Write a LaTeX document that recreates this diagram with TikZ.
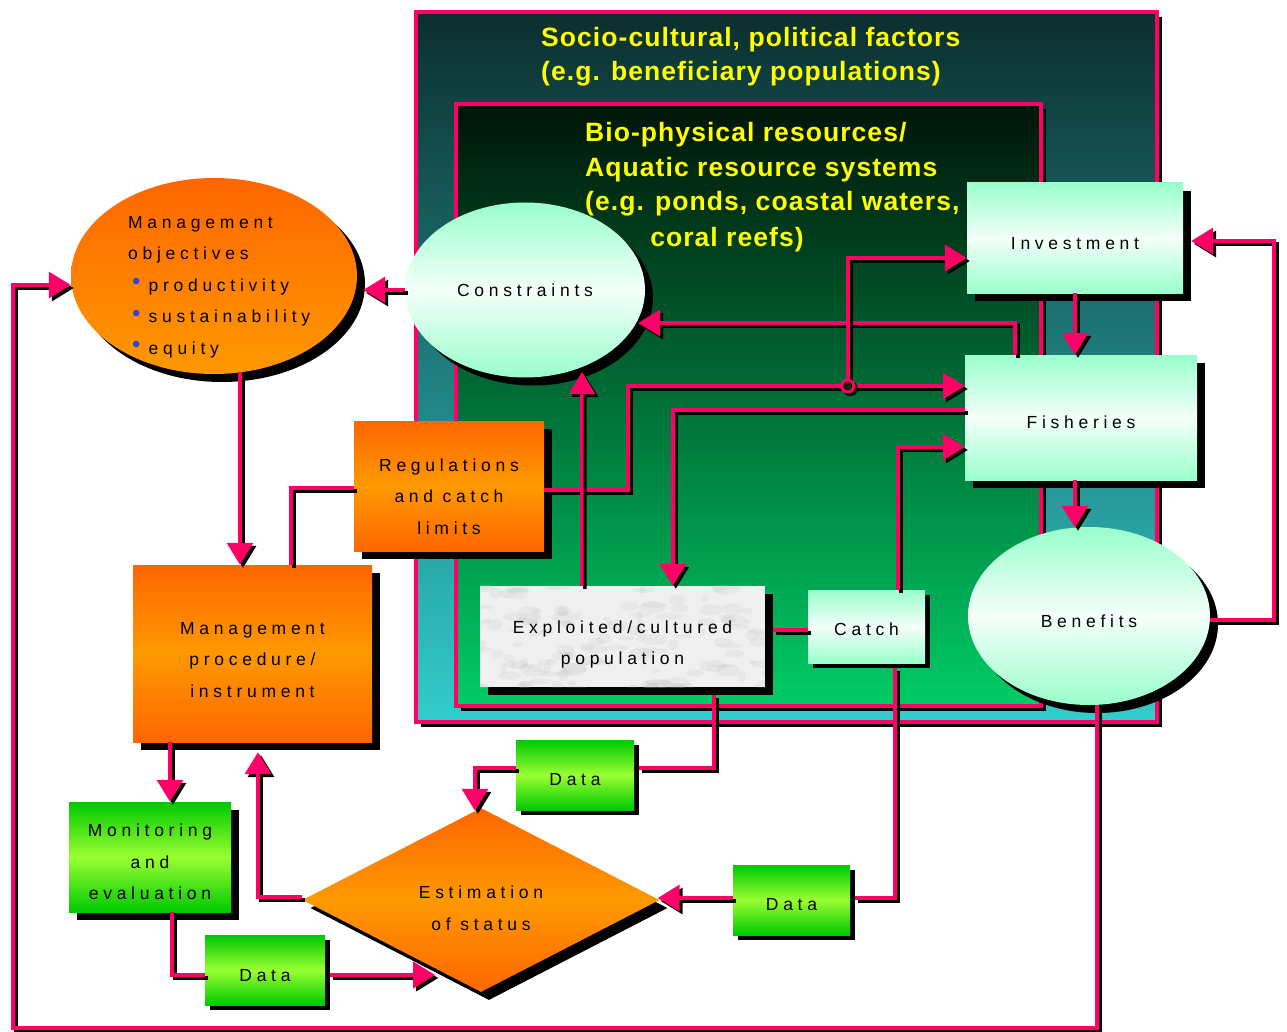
\documentclass[tikz,border=0pt]{standalone}
\usepackage{fontspec}
\setmainfont{Liberation Sans}
\newfontfamily\bodyfont[LetterSpace=27]{Liberation Sans}
\newfontfamily\titlefont[LetterSpace=4]{Liberation Sans}
\newfontfamily\bulfont{Liberation Sans}
\usetikzlibrary{shapes.geometric,shadows,arrows.meta,calc}
\definecolor{pinkc}{HTML}{FF0066}
\definecolor{orT}{HTML}{FF6600}
\definecolor{orM}{HTML}{FF9900}
\definecolor{mintc}{HTML}{99FFCC}
\definecolor{mintW}{HTML}{F4FFFA}
\definecolor{grT}{HTML}{00C800}
\definecolor{grM}{HTML}{99FF33}
\definecolor{outerT}{HTML}{0C2E2E}
\definecolor{outerB}{HTML}{33CCCC}
\definecolor{innerT}{HTML}{001408}
\definecolor{innerB}{HTML}{00CC66}
\definecolor{ttlyel}{HTML}{FFFF00}
\definecolor{bblue}{HTML}{3344DD}
\newcommand\conn[2][]{\draw[cshadow,#1] #2; \draw[cpink,#1] #2;}
\newcommand\dn[1]{\rule{0pt}{#1pt}}
\newcommand\bul{\hspace*{4pt}\raisebox{1.5pt}{\textcolor{bblue}{\bulfont\fontsize{24}{24}\selectfont\char"2022}}\hspace{8pt}}
\begin{document}
\begin{tikzpicture}[x=1pt,y=-1pt,
  bigsh/.style={drop shadow={shadow xshift=8pt,shadow yshift=-8pt,fill=black,opacity=1}},
  smallsh/.style={drop shadow={shadow xshift=5pt,shadow yshift=-5pt,fill=black,opacity=1}},
  box/.style={inner sep=0pt,align=center,text=black,font=\bodyfont\fontsize{17.5}{31.5}\selectfont},
  mint/.style={top color=mintc,bottom color=mintc,middle color=mintW},
  orng/.style={top color=orT,bottom color=orT,middle color=orM},
  grn/.style={top color=grT,bottom color=grT,middle color=grM},
  ttl/.style={inner sep=0pt,anchor=base west,text=ttlyel,font=\titlefont\bfseries\fontsize{26.5}{30}\selectfont},
  cshadow/.style={draw=black,line width=3.5pt,transform canvas={shift={(3pt,-3pt)}}},
  cpink/.style={draw=pinkc,line width=3.5pt},
  arr/.style={-{Triangle[length=22pt,width=26pt]}}]
\useasboundingbox (0,0) rectangle (1287,1032);
\fill[white] (0,0) rectangle (1287,1032);
% background regions
\fill[black] (421,17) rectangle (1162,727);
\shade[top color=outerT,bottom color=outerB] (416,12) rectangle (1157,722);
\draw[pinkc,line width=4pt] (416,12) rectangle (1157,722);
\fill[black] (461,109) rectangle (1046,711);
\shade[top color=innerT,bottom color=innerB] (456,104) rectangle (1041,706);
\draw[pinkc,line width=4pt] (456,104) rectangle (1041,706);
% titles
\node[ttl] (t1) at (541,47) {Socio-cultural, political factors};
\node[ttl] (t2) at (541,81) {(e.g. beneficiary populations)};
\node[ttl] (t3) at (585,142) {Bio-physical resources/};
\node[ttl] (t4) at (585,177) {Aquatic resource systems};
\node[ttl] (t5) at (585,211) {(e.g. ponds, coastal waters,};
\node[ttl,anchor=base] (t6) at (727,247) {coral reefs)};
% nodes
\node[ellipse,top color=orT,bottom color=orM,bigsh,minimum width=286pt,minimum height=196pt,inner sep=0pt] (obj) at (214,276) {};
\node[box,align=left,anchor=north west] (objtxt) at (128,216) {Management\\objectives\\\bul productivity\\\bul sustainability\\\bul equity};
\node[ellipse,box,mint,bigsh,minimum width=240pt,minimum height=175pt] (cons) at (525,290) {Constraints};
\node[rectangle,box,mint,bigsh,minimum width=216pt,minimum height=110pt] (inv) at (1075,238) {\dn{23}Investment};
\node[rectangle,box,mint,bigsh,minimum width=232pt,minimum height=125pt] (fish) at (1081,417.5) {\dn{23}Fisheries};
\node[ellipse,box,mint,bigsh,minimum width=242pt,minimum height=178pt] (ben) at (1089,616) {\dn{23}Benefits};
\node[rectangle,box,mint,smallsh,minimum width=117pt,minimum height=73pt] (catch) at (866.5,626.5) {\dn{19}Catch};
\node[rectangle,box,fill=gray!12,bigsh,minimum width=285pt,minimum height=101pt] (expl) at (622.5,636.5) {};
\begin{scope}
\clip (expl.south west) rectangle (expl.north east);
\pgfmathsetseed{11}
\foreach \i in {1,...,140} {
  \fill[gray!60,opacity=0.14]
    ($(expl.south west)+(rnd*295-5,-rnd*108+3)$) ellipse ({3+rnd*12} and {1.5+rnd*5});
}
\end{scope}
\node[box] (expltxt) at (expl.center) {\dn{29}Exploited/cultured\\population};
\node[rectangle,box,orng,bigsh,minimum width=190pt,minimum height=130pt] (reg) at (449,486) {\dn{34}Regulations\\and catch\\limits};
\node[rectangle,box,orng,bigsh,minimum width=239pt,minimum height=177pt] (proc) at (252.5,653.5) {\dn{25}Management\\procedure/\\instrument};
\node[rectangle,box,grn,bigsh,minimum width=162pt,minimum height=110pt] (mon) at (150,857) {\dn{23}Monitoring\\and\\evaluation};
\node[rectangle,box,grn,smallsh,minimum width=120pt,minimum height=70pt] (d1) at (265,970) {\dn{24}Data};
\node[rectangle,box,grn,smallsh,minimum width=118pt,minimum height=70pt] (d2) at (575,775) {\dn{22}Data};
\node[rectangle,box,grn,smallsh,minimum width=117pt,minimum height=70pt] (d3) at (791.5,900) {\dn{21}Data};
\node[diamond,box,orng,bigsh,aspect=2,minimum width=357pt,minimum height=184pt] (est) at (481,900) {\dn{29}Estimation\\of status};
% helper coordinates
\coordinate (jn) at ($(fish.west)+(-117,-31.5)$);
\coordinate (bl) at (13,1028);
% connectors
\conn[arr]{(cons.west) -- ($(cons.west -| obj.east)+(6,0)$)}
\conn[arr]{($(fish.north west)+(50,0)$) |- ($(cons.center)+(113,33)$)}
\conn[arr]{($(reg.east)+(0,4)$) -- ++(84,0) |- ($(fish.west)+(0,-31.5)$)}
\conn[arr]{(jn) |- ($(inv.west)+(0,20)$)}
\draw[black,line width=3pt] ($(jn)+(2.5,2.5)$) circle (6);
\draw[pinkc,line width=3pt,fill=black!60!green!40!black] (jn) circle (6);
\conn[arr]{($(fish.west)+(0,-7.5)$) -| ($(expl.north west)+(193,0)$)}
\conn[arr]{($(expl.north west)+(102,0)$) -- ($(cons.center)+(57,82)$)}
\conn[arr]{($(catch.north west)+(90,0)$) |- ($(fish.west)+(0,29.5)$)}
\conn{($(expl.east)+(8,-6.5)$) -- ($(catch.west)+(0,3.5)$)}
\conn[arr]{(inv.south) -- (inv.south |- fish.north)}
\conn[arr]{($(fish.south)+(-6,0)$) -- ($(ben.north)+(-14,1)$)}
\conn[arr]{($(ben.east)+(0,4)$) -- ++(64,0) |- ($(inv.east)+(8,3)$)}
\conn[arr]{($(ben.south)+(8,0)$) |- (bl) |- ($(obj.west)+(0,9)$)}
\conn[arr]{($(obj.south)+(26,-2)$) -- ($(proc.north)+(-12.5,0)$)}
\conn{($(proc.north)+(38.5,0)$) |- ($(reg.west)+(0,2)$)}
\conn[arr]{($(proc.south)+(-82.5,0)$) -- ($(mon.north)+(20,0)$)}
\conn{($(mon.south)+(22,0)$) |- ($(d1.west)+(0,5)$)}
\conn[arr]{($(d1.east)+(5,5)$) -- ($(d1.east)+(110,5)$)}
\conn[arr]{($(est.west)+(0,-3)$) -| ($(proc.south)+(5.5,10)$)}
\conn{($(expl.south)+(91.5,8)$) |- ($(d2.east)+(5,-7)$)}
\conn[arr]{($(d2.west)+(0,-7)$) -| ($(est.north)+(-6,3)$)}
\conn{($(catch.south)+(28.5,5)$) |- ($(d3.east)+(5,-2)$)}
\conn[arr]{($(d3.west)+(0,-2)$) -- ($(est.east)+(-2,-2)$)}
\end{tikzpicture}
\end{document}
